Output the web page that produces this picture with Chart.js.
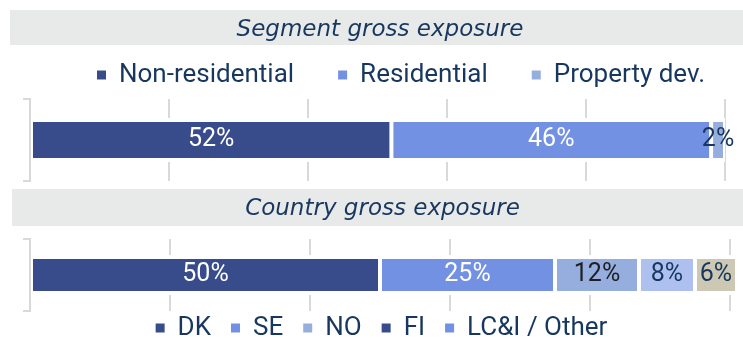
<!DOCTYPE html>
<html>
<head>
<meta charset="utf-8">
<script src="https://cdn.jsdelivr.net/npm/chart.js@4.4.1/dist/chart.umd.min.js"></script>
<style>
  html, body { margin: 0; padding: 0; background: #ffffff; }
  canvas { display: block; }
</style>
</head>
<body>
<canvas id="segmentChart" width="743" height="186"></canvas>
<canvas id="countryChart" width="743" height="152"></canvas>
<script>
// ---- data ----
const segmentTitle = 'Segment gross exposure';
const segmentRows = ['Segment'];
const segmentNames = ['Non-residential', 'Residential', 'Property dev.'];
const segmentShares = [52, 46, 2];

const countryTitle = 'Country gross exposure';
const countryRows = ['Country'];
const countryNames = ['DK', 'SE', 'NO', 'FI', 'LC&I / Other'];
const countryShares = [50, 25, 12, 8, 6];

const shareTicks = [0, 20, 40, 60, 80, 100];

// ---- styling ----
const NAVY = '#384c8c';
const MID = '#7391e2';
const LIGHT = '#96aede';
const PALE = '#adc0f0';
const SAND = '#cdc8b3';
const INK = '#17375e';
const GRID = '#d9d9d9';
const BAND = '#e8e9e9';

const segmentBarColors = [NAVY, MID, LIGHT];
const segmentKeyColors = [NAVY, MID, LIGHT];
const segmentValueColors = ['#ffffff', '#ffffff', INK];

const countryBarColors = [NAVY, MID, LIGHT, PALE, SAND];
const countryKeyColors = [NAVY, MID, LIGHT, NAVY, MID];
const countryValueColors = ['#ffffff', '#ffffff', '#1e1e24', INK, INK];

// grey band behind the chart title
const titleBand = {
  id: 'titleBand',
  beforeDraw(chart, args, opts) {
    const t = chart.titleBlock;
    if (!t) return;
    const ctx = chart.ctx;
    ctx.save();
    ctx.fillStyle = opts.color;
    ctx.fillRect(opts.left, t.top, chart.width - opts.left, opts.height);
    ctx.restore();
  }
};

// nudges the title and legend blocks after layout
const blockOffset = {
  id: 'blockOffset',
  afterLayout(chart, args, opts) {
    const lg = chart.legend;
    if (lg && opts.legend) {
      lg.left += opts.legend.dx; lg.right += opts.legend.dx;
      lg.top += opts.legend.dy; // bottom stays so the legend clip box keeps its text
    }
    const tb = chart.titleBlock;
    if (tb && opts.title) {
      tb.left += opts.title.dx; tb.right += opts.title.dx;
    }
  }
};

// percentage written in the middle of every bar segment
const shareLabels = {
  id: 'shareLabels',
  afterDatasetsDraw(chart, args, opts) {
    const ctx = chart.ctx;
    ctx.save();
    ctx.font = opts.font;
    ctx.textAlign = 'center';
    ctx.textBaseline = 'middle';
    chart.data.datasets.forEach((ds, i) => {
      chart.getDatasetMeta(i).data.forEach((bar, j) => {
        const c = bar.getCenterPoint();
        ctx.fillStyle = opts.colors[i];
        ctx.fillText(ds.data[j] + '%', c.x, c.y);
      });
    });
    ctx.restore();
  }
};

function buildStackedBar(canvasId, cfg) {
  const datasets = cfg.names.map((name, i) => ({
    label: name,
    data: [cfg.shares[i]],
    backgroundColor: cfg.barColors[i],
    borderColor: '#ffffff',
    borderWidth: { top: 4, bottom: 4, left: 2, right: 2 },
    borderSkipped: false,
    barPercentage: 1,
    categoryPercentage: cfg.thickness,
    clip: false
  }));

  return new Chart(document.getElementById(canvasId), {
    type: 'bar',
    data: { labels: cfg.rows, datasets },
    options: {
      indexAxis: 'y',
      responsive: false,
      animation: false,
      events: [],
      layout: { padding: cfg.padding },
      scales: {
        x: {
          stacked: true,
          min: shareTicks[0],
          max: shareTicks[shareTicks.length - 1],
          afterBuildTicks: s => { s.ticks = shareTicks.map(v => ({ value: v })); },
          ticks: { display: false },
          grid: { color: GRID, lineWidth: 2, drawTicks: false },
          border: { display: false }
        },
        y: {
          stacked: true,
          ticks: { display: false },
          grid: { offset: true, drawOnChartArea: false, drawTicks: true, tickLength: 7, color: GRID, lineWidth: 2 },
          border: { display: true, color: GRID, width: 2 }
        }
      },
      plugins: {
        tooltip: { enabled: false },
        title: {
          display: true,
          text: cfg.title,
          color: INK,
          font: { family: 'DejaVu Sans', style: 'italic', weight: 'normal', size: 23, lineHeight: 1 },
          padding: cfg.titlePadding
        },
        legend: {
          display: true,
          position: cfg.legendPosition,
          maxHeight: cfg.legendHeight,
          labels: {
            color: INK,
            font: { family: 'Roboto', size: 26, weight: 'normal' },
            boxWidth: 9,
            boxHeight: 9,
            padding: cfg.legendGap,
            generateLabels(chart) {
              const items = Chart.defaults.plugins.legend.labels.generateLabels(chart);
              items.forEach((it, i) => {
                it.fillStyle = cfg.keyColors[i];
                it.strokeStyle = cfg.keyColors[i];
                it.lineWidth = 0;
              });
              return items;
            }
          }
        },
        titleBand: { color: BAND, left: cfg.bandLeft, height: cfg.bandHeight },
        blockOffset: cfg.offsets,
        shareLabels: { font: '25px Roboto', colors: cfg.valueColors }
      }
    },
    plugins: [titleBand, blockOffset, shareLabels]
  });
}

buildStackedBar('segmentChart', {
  title: segmentTitle,
  rows: segmentRows,
  names: segmentNames,
  shares: segmentShares,
  barColors: segmentBarColors,
  keyColors: segmentKeyColors,
  valueColors: segmentValueColors,
  thickness: 0.537,
  padding: { left: 23, right: 18, top: 10, bottom: 5 },
  titlePadding: { top: 9, bottom: 3 },
  legendPosition: 'top',
  legendHeight: 54,
  legendGap: 44,
  bandLeft: 10,
  bandHeight: 35,
  offsets: { legend: { dx: 27, dy: -27 }, title: { dx: 6 } }
});

buildStackedBar('countryChart', {
  title: countryTitle,
  rows: countryRows,
  names: countryNames,
  shares: countryShares,
  barColors: countryBarColors,
  keyColors: countryKeyColors,
  valueColors: countryValueColors,
  thickness: 0.556,
  padding: { left: 23, right: 13, top: 3, bottom: 0 },
  titlePadding: { top: 9, bottom: 18 },
  legendPosition: 'bottom',
  legendHeight: 27,
  legendGap: 20,
  bandLeft: 12,
  bandHeight: 37,
  offsets: { legend: { dx: 5, dy: -16 }, title: { dx: 6 } }
});
</script>
</body>
</html>
